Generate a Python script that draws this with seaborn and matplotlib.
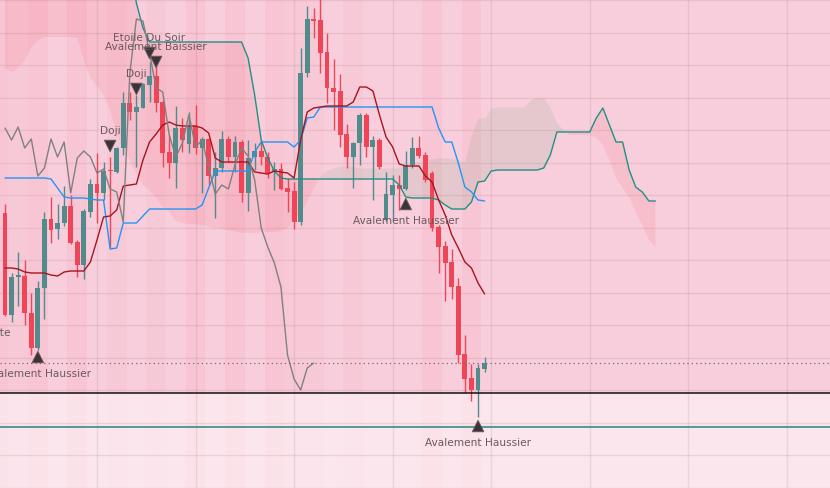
import numpy as np
import pandas as pd
import matplotlib
matplotlib.use("Agg")
import matplotlib.pyplot as plt
import seaborn as sns

# ---------------- data (price units) ----------------
opens = [307, 205, 243, 244, 207, 172, 232, 301, 291, 297,
         314, 278, 255, 308, 336, 327, 350, 348, 372, 417,
         408, 412, 435, 444, 418, 368, 357, 392, 376, 394,
         372, 381, 344, 352, 381, 363, 378, 327, 363, 369,
         363, 348, 351, 332, 329, 298, 447, 501, 500, 468,
         432, 429, 386, 363, 377, 405, 373, 380, 300, 325,
         335, 331, 355, 372, 365, 347, 293, 274, 258, 234,
         166, 142, 130, 151]
highs = [316, 247, 268, 260, 227, 239, 308, 323, 316, 334,
         325, 280, 311, 341, 367, 358, 363, 373, 428, 428,
         425, 437, 458, 455, 420, 385, 414, 402, 408, 415,
         383, 382, 368, 389, 384, 384, 380, 380, 377, 380,
         368, 358, 357, 342, 338, 472, 514, 512, 523, 487,
         461, 446, 396, 378, 407, 407, 384, 382, 348, 345,
         345, 369, 383, 384, 368, 349, 295, 279, 271, 242,
         185, 156, 156, 163]
lows = [204, 198, 214, 195, 165, 170, 201, 277, 281, 294,
        276, 243, 241, 303, 297, 320, 272, 347, 365, 400,
        353, 412, 418, 408, 353, 342, 332, 368, 367, 366,
        327, 335, 302, 348, 358, 348, 318, 309, 350, 355,
        342, 330, 330, 308, 291, 295, 443, 482, 447, 417,
        390, 373, 352, 332, 355, 363, 320, 351, 299, 300,
        310, 330, 352, 362, 338, 289, 247, 219, 221, 157,
        127, 119, 103, 148]
closes = [205, 243, 245, 207, 172, 232, 301, 290, 297, 314,
          277, 255, 309, 336, 327, 349, 349, 372, 417, 408,
          413, 436, 444, 417, 367, 357, 392, 380, 393, 372,
          381, 344, 352, 381, 363, 378, 327, 362, 369, 363,
          347, 351, 331, 328, 298, 447, 501, 499, 467, 432,
          428, 385, 363, 377, 405, 373, 380, 353, 326, 335,
          331, 355, 372, 364, 340, 292, 273, 257, 233, 165,
          141, 130, 152, 157]

conversion_line = [252, 252, 251, 248, 247, 247, 247, 245, 244, 248,
                   249, 249, 249, 258, 280, 303, 304, 310, 334, 335,
                   336, 360, 378, 386, 395, 398, 395, 394, 394, 394,
                   392, 387, 362, 358, 358, 358, 358, 358, 348, 347,
                   346, 349, 348, 347, 342, 380, 408, 412, 413, 414,
                   414, 414, 414, 418, 433, 433, 429, 405, 383, 373,
                   356, 354, 354, 354, 344, 338, 320, 305, 285, 272,
                   258, 252, 237, 226]
base_line = [342, 342, 342, 342, 342, 342, 342, 341, 332, 323,
             322, 322, 322, 321, 320, 320, 271, 272, 297, 297,
             297, 304, 311, 311, 311, 311, 311, 311, 311, 311,
             315, 332, 349, 349, 349, 349, 349, 349, 368, 378,
             378, 378, 378, 378, 373, 380, 402, 403, 413, 413,
             413, 413, 413, 413, 413, 413, 413, 413, 413, 413,
             413, 413, 413, 413, 413, 413, 392, 378, 378, 357,
             333, 328, 320, 319]

# leading spans, already displaced 26 bars ahead (bar 0 .. 99)
span_a = [452, 448, 452, 460, 473, 480, 483, 483, 483, 483,
          483, 482, 460, 442, 434, 425, 410, 387, 370, 360,
          345, 335, 330, 322, 313, 308, 299, 297, 296, 296,
          295, 293, 292, 291, 290, 289, 287, 287, 287, 288,
          288, 288, 289, 292, 300, 308, 318, 332, 344, 350,
          352, 354, 354, 353, 352, 352, 352, 352, 352, 352,
          353, 355, 357, 359, 360, 361, 362, 362, 362, 360,
          358, 385, 402, 402, 412, 413, 413, 413, 413, 413,
          420, 423, 422, 412, 397, 390, 385, 385, 385, 385,
          382, 375, 360, 342, 332, 323, 308, 295, 280, 273]
span_b = [600, 600, 600, 600, 600, 600, 600, 600, 600, 600,
          600, 600, 600, 600, 600, 600, 600, 600, 600, 560,
          517, 492, 478, 478, 478, 478, 478, 478, 478, 478,
          478, 478, 478, 478, 478, 478, 478, 462, 425, 380,
          362, 349, 342, 341, 341, 341, 341, 341, 341, 341,
          341, 341, 341, 341, 341, 341, 341, 341, 341, 341,
          335, 323, 322, 322, 322, 322, 320, 315, 311, 311,
          311, 318, 338, 339, 349, 350, 350, 350, 350, 350,
          350, 350, 352, 365, 388, 388, 388, 388, 388, 388,
          402, 412, 395, 378, 378, 350, 333, 328, 319, 319]

# background shading per block of 3 bars (0 = none, 1 = light, 2 = darker)
stripe_level = [2, 1, 2, 0, 2, 0, 1, 0, 1, 0, 2, 0, 2,
                0, 2, 1, 1, 0, 1, 0, 0, 0, 2, 0, 2, 0]

# candle patterns: bar index, marker price, label, direction
pattern_bar = [5, 61, 72, 16, 20, 22, 23]
pattern_price = [163, 316, 94, 374, 431, 467, 458]
pattern_label = ["Avalement Haussier", "Avalement Haussier", "Avalement Haussier",
                 "Doji", "Doji", "Etoile Du Soir", "Avalement Baissier"]
pattern_dir = ["up", "up", "up", "down", "down", "down", "down"]

offscreen_label = "Ligne Perçante"
offscreen_label_price = 187

last_price = 157
support_level = 127
zone_level = 93

# ---------------- styling ----------------
sns.set_style("white")
plt.rcParams['font.family'] = ['DejaVu Sans']

BG = "#f8cedc"
UP = "#528b8c"
DOWN = "#ef4556"

fig = plt.figure(figsize=(8.3, 4.88), dpi=100)
ax = fig.add_axes([0, 0, 1, 1])
ax.set_facecolor(BG)
for s in ax.spines.values():
    s.set_visible(False)

n = len(closes)
idx = np.arange(n)
df = pd.DataFrame({"bar": idx, "open": opens, "high": highs, "low": lows,
                   "close": closes, "tenkan": conversion_line, "kijun": base_line})
fut = pd.DataFrame({"bar": np.arange(len(span_a)), "a": span_a, "b": span_b})

# background stripes
for k, lvl in enumerate(stripe_level):
    if lvl == 0:
        continue
    left = 3 * k - 2.5
    right = min(3 * k + 0.5, n - 0.5)
    ax.axvspan(left, right, color="#e8304a", alpha=0.026 * lvl, lw=0, zorder=0.1)

# lighter zone under support
ax.axhspan(0, support_level, color="white", alpha=0.5, lw=0, zorder=0.2)

# grid
for gx in range(14, 130, 15):
    ax.axvline(gx, color="#a0707c", alpha=0.16, lw=1, zorder=0.3)
for gy in np.arange(32.5, 540, 32.5):
    ax.axhline(gy, color="#a0707c", alpha=0.16, lw=1, zorder=0.3)

# cloud
a = fut["a"].to_numpy(float)
b = fut["b"].to_numpy(float)
ax.fill_between(fut["bar"], a, b, where=a >= b, interpolate=True,
                color="#3f9a52", alpha=0.10, lw=0, zorder=0.5)
ax.fill_between(fut["bar"], a, b, where=a < b, interpolate=True,
                color="#f23645", alpha=0.10, lw=0, zorder=0.5)

# candles
colors = [UP if c >= o else DOWN for o, c in zip(opens, closes)]
body_lo = np.minimum(opens, closes)
body_h = np.maximum(np.abs(np.array(closes) - np.array(opens)), 0.8)
ax.vlines(idx, lows, highs, colors=colors, lw=1.0, zorder=3)
ax.bar(idx, body_h, bottom=body_lo, width=0.74, color=colors, lw=0, zorder=3.1)

# ichimoku lines
sns.lineplot(data=fut, x="bar", y="b", ax=ax, color="#1f9184", lw=1.0, zorder=4)
sns.lineplot(data=df, x="bar", y="kijun", ax=ax, color="#2196f3", lw=1.0, zorder=4)
sns.lineplot(data=df, x="bar", y="tenkan", ax=ax, color="#a8141f", lw=1.0, zorder=4)
lag = pd.DataFrame({"bar": idx[:n - 26], "lag": closes[26:]})
sns.lineplot(data=lag, x="bar", y="lag", ax=ax, color="#808080", lw=1.0, zorder=4)

# levels
ax.axhline(last_price, color="#707070", lw=0.9, ls=(0, (1, 2.5)), zorder=4.5)
ax.axhline(support_level, color="#111111", lw=1.1, zorder=4.5)
ax.axhline(zone_level, color="#23857d", lw=1.1, zorder=4.5)

# pattern markers + labels
pat = pd.DataFrame({"bar": pattern_bar, "price": pattern_price,
                    "label": pattern_label, "dir": pattern_dir})
sns.scatterplot(data=pat, x="bar", y="price", style="dir",
                markers={"up": "^", "down": "v"}, s=70, color="#3b3335",
                edgecolor="#6a5d60", linewidth=0.6, legend=False, ax=ax, zorder=5)
for _, r in pat.iterrows():
    dy = -12.5 if r["dir"] == "up" else 11
    ax.annotate(r["label"], (r["bar"], r["price"]), xytext=(0, dy),
                textcoords="offset points", ha="center", va="center",
                fontsize=7.6, color="#6a5a5e", zorder=6)
ax.text(0.9, offscreen_label_price, offscreen_label, ha="right", va="center",
        fontsize=7.6, color="#6a5a5e", zorder=6)

ax.set_xlim(-0.761, 125.57)
ax.set_ylim(32, 520)
ax.set_xticks([])
ax.set_yticks([])
ax.set_xlabel("")
ax.set_ylabel("")

fig.savefig("out.png", dpi=100, facecolor=BG)
